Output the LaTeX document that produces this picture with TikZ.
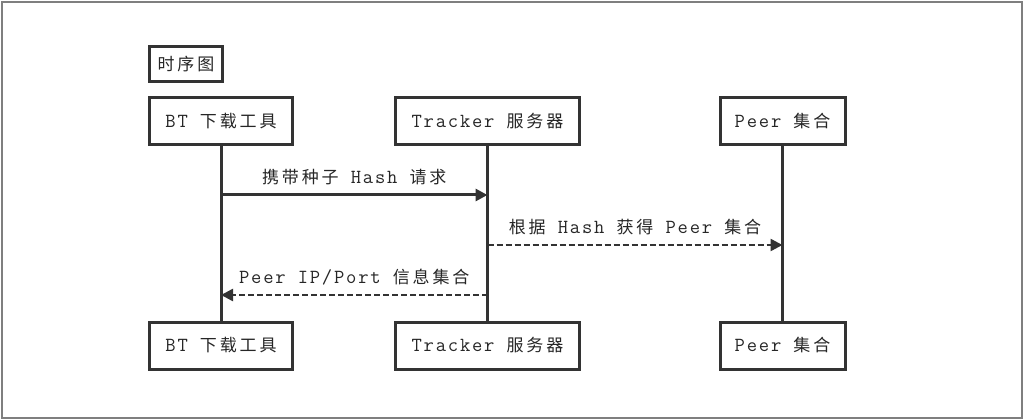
\documentclass[tikz,border=0pt]{standalone}
\usepackage{fontspec}
\setmainfont{Latin Modern Mono}[LetterSpace=9]
\newfontfamily\cjk[Scale=0.85,LetterSpace=17]{Noto Sans CJK SC}
\usetikzlibrary{arrows.meta}
\definecolor{ink}{HTML}{333333}
\definecolor{framegray}{HTML}{7F7F7F}
\tikzset{
  box/.style={draw=ink, line width=3pt, fill=white, inner sep=0pt,
    minimum height=47pt, text=black!85, font=\fontsize{20}{24}\selectfont},
  lifeline/.style={draw=ink, line width=3pt},
  msg/.style={draw=ink, line width=3pt, -{Triangle[length=12pt,width=12pt]}},
  reply/.style={msg, line width=2.5pt, dash pattern=on 6pt off 3pt},
  msglabel/.style={text=black!85, font=\fontsize{20}{24}\selectfont, yshift=18pt}
}

\begin{document}
\begin{tikzpicture}[x=1pt,y=-1pt]
	\useasboundingbox (0,0) rectangle (1024,419);
	\draw [framegray,line width=2.3pt] (2.2,2.2) rectangle (1021.8,417.7);

	\node [box,minimum width=73pt,minimum height=35pt] (title) at (186,64) {\cjk 时序图};

	%participants en haut
	\node [box,minimum width=143pt] (bttop) at (221,121) {BT {\cjk 下载工具}};
	\node [box,minimum width=184pt] (trtop) at (487.5,121) {Tracker {\cjk 服务器}};
	\node [box,minimum width=125pt] (petop) at (782.5,121) {Peer {\cjk 集合}};

	%participants en bas
	\node [box,minimum width=143pt] (btbot) at (221,345.5) {BT {\cjk 下载工具}};
	\node [box,minimum width=184pt] (trbot) at (487.5,345.5) {Tracker {\cjk 服务器}};
	\node [box,minimum width=125pt] (pebot) at (782.5,345.5) {Peer {\cjk 集合}};

	\foreach \p in {bt,tr,pe}
		\draw [lifeline] (\p top.south) -- (\p bot.north);

	%messages
	\coordinate (bt1) at (bttop.south |- 0,195);
	\coordinate (tr1) at (trtop.south |- 0,195);
	\coordinate (tr2) at (trtop.south |- 0,245);
	\coordinate (pe2) at (petop.south |- 0,245);
	\coordinate (tr3) at (trtop.south |- 0,295);
	\coordinate (bt3) at (bttop.south |- 0,295);

	\draw [msg] (bt1) -- (tr1) node [midway,msglabel] {{\cjk 携带种子} Hash {\cjk 请求}};
	\draw [reply] (tr2) -- (pe2) node [midway,msglabel] {{\cjk 根据} Hash {\cjk 获得} Peer {\cjk 集合}};
	\draw [reply] (tr3) -- (bt3) node [midway,msglabel] {Peer IP/Port {\cjk 信息集合}};
\end{tikzpicture}
\end{document}
